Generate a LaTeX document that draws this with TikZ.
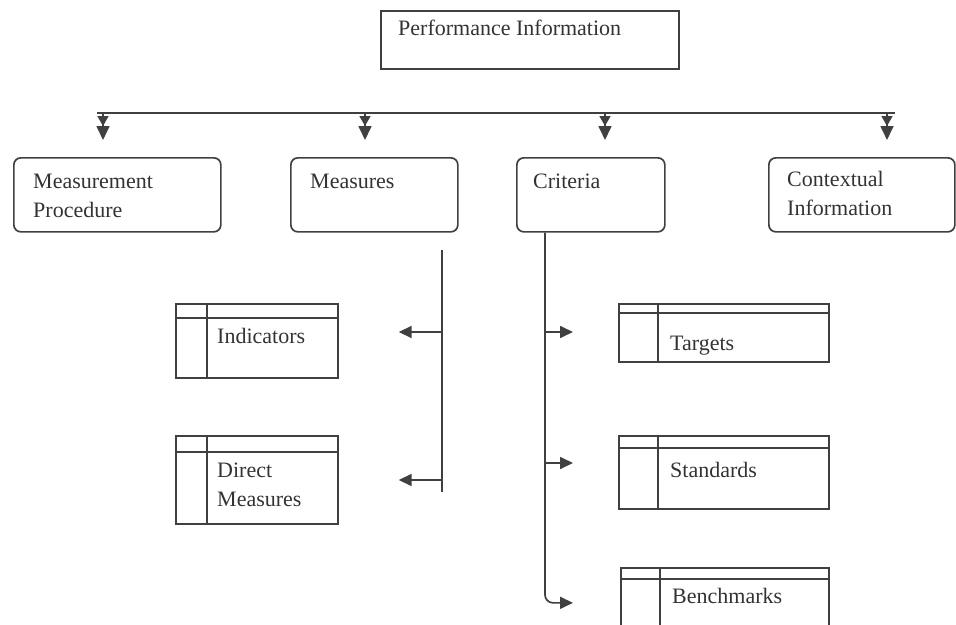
\documentclass[tikz,border=0pt]{standalone}
\usepackage{fontspec}
\setmainfont{Liberation Serif}
\usetikzlibrary{arrows.meta, positioning}
\newcommand{\boxfont}{\fontsize{22}{29}\selectfont}
\tikzset{x=1pt, y=-1pt,
  link/.style={draw=black!75, line width=1.7pt},
  tip/.style={-{Triangle[width=12pt,length=13pt]}},
  dbltip/.style={-{Triangle[width=11pt,length=10pt]Triangle[width=13pt,length=14pt]}},
  box/.style 2 args={link, rectangle, anchor=north west, inner sep=0pt, minimum width=#1, minimum height=#2},
  group/.style 2 args={box={#1}{#2}, rounded corners=7pt},
  boxtext/.style n args={3}{label={[anchor=north west, inner sep=0pt, align=left, font=\boxfont, text=black!80, xshift=#1, yshift=#2]north west:\strut #3}},
}

\begin{document}
\begin{tikzpicture}
\useasboundingbox (0,0) rectangle (956,624);
    % top level
    \node[box={298pt}{58pt}, boxtext={18pt}{-4.7pt}{Performance Information}] (perf) at (380,10) {};
    \node[group={207pt}{74pt}, boxtext={20pt}{-10.7pt}{Measurement\\Procedure}] (proc) at (13,157) {};
    \node[group={167pt}{74pt}, boxtext={20pt}{-10.7pt}{Measures}] (meas) at (290,157) {};
    \node[group={148pt}{74pt}, boxtext={17pt}{-10.7pt}{Criteria}] (crit) at (516,157) {};
    \node[group={186pt}{74pt}, boxtext={19pt}{-9pt}{Contextual\\Information}] (ctx) at (768,157) {};

    % records
    \node[box={162pt}{74pt}, boxtext={42pt}{-19.7pt}{Indicators}] (ind) at (175,303) {};
    \node[box={162pt}{88pt}, boxtext={42pt}{-21.7pt}{Direct\\Measures}] (dir) at (175,435) {};
    \node[box={210pt}{58pt}, boxtext={52pt}{-26.7pt}{Targets}] (tgt) at (618,303) {};
    \node[box={210pt}{73pt}, boxtext={52pt}{-21.7pt}{Standards}] (std) at (618,435) {};
    \node[box={208pt}{70pt}, boxtext={52pt}{-15.7pt}{Benchmarks}] (bench) at (620,567) {};

    \foreach \n/\dx/\dy in {ind/32/15, dir/32/17, tgt/40/10, std/40/13, bench/40/12}
        \draw[link] ([xshift=\dx pt]\n.north west) -- ([xshift=\dx pt]\n.south west)
                    ([yshift=-\dy pt]\n.north west) -- ([yshift=-\dy pt]\n.north east);

    % bus
    \coordinate (busL) at (97,113);
    \coordinate (busR) at (895,113);
    \draw[link] (busL) -- (busR);
    \foreach \x/\n in {103/proc, 365/meas, 605/crit, 887/ctx} {
        \coordinate (b\n) at (\x,113);
        \draw[link, dbltip, shorten >=17pt] (b\n) -- (b\n |- \n.north);
    }

    % measures
    \coordinate (mtop) at (442,250);
    \coordinate (mbot) at (442,492);
    \coordinate (mind) at (442,332);
    \coordinate (mdir) at (442,480);
    \draw[link] (mtop) -- (mbot);
    \draw[link, tip, shorten >=60pt] (mind) -- (mind -| ind.east);
    \draw[link, tip, shorten >=60pt] (mdir) -- (mdir -| dir.east);

    % criteria
    \coordinate (ctop) at ([xshift=29pt]crit.south west);
    \coordinate (ctgt) at (545,332);
    \coordinate (cstd) at (545,463);
    \draw[link, tip, rounded corners=8pt, shorten >=47pt] (ctop) |- (bench.west);
    \draw[link, tip, shorten >=45pt] (ctgt) -- (ctgt -| tgt.west);
    \draw[link, tip, shorten >=45pt] (cstd) -- (cstd -| std.west);
\end{tikzpicture}
\end{document}
